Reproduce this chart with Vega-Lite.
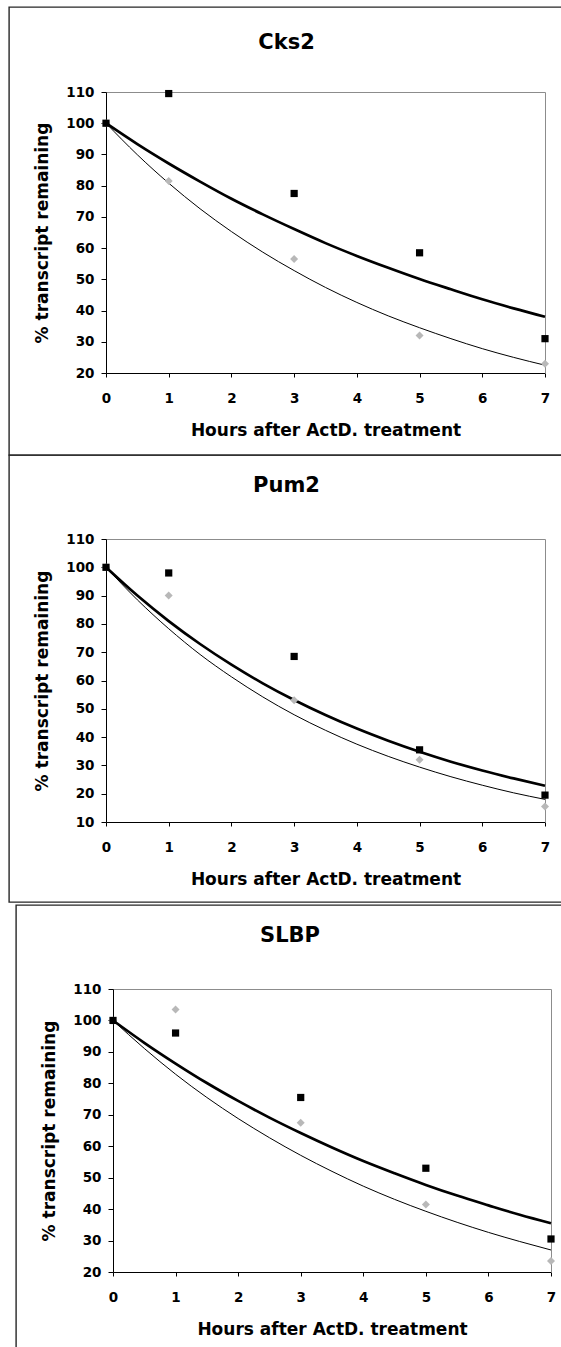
{
 "$schema": "https://vega.github.io/schema/vega-lite/v6.json",
 "padding": {"left": 8, "top": 6, "right": 0, "bottom": 0},
 "background": "white",
 "config": {
  "font": "DejaVu Sans",
  "view": {"stroke": "#262626", "strokeWidth": 1.4},
  "axis": {"grid": false, "labelFont": "DejaVu Sans", "labelFontSize": 13.5, "labelFontWeight": "bold", "labelColor": "#000", "titleFont": "DejaVu Sans", "titleFontSize": 17, "titleFontWeight": "bold", "titleColor": "#000", "domainColor": "#000", "domainWidth": 1, "tickColor": "#000", "tickWidth": 1, "labelFlush": false, "labelOverlap": false},
  "title": {"font": "DejaVu Sans", "fontSize": 21, "fontWeight": "bold", "color": "#000", "anchor": "middle"}
 },
 "datasets": {
  "pts": [
   {"gene":"Cks2","series":"S2","hours":0,"pct":100},{"gene":"Cks2","series":"S2","hours":1,"pct":81.5},{"gene":"Cks2","series":"S2","hours":3,"pct":56.5},{"gene":"Cks2","series":"S2","hours":5,"pct":32},{"gene":"Cks2","series":"S2","hours":7,"pct":23},
   {"gene":"Cks2","series":"S1","hours":0,"pct":100},{"gene":"Cks2","series":"S1","hours":1,"pct":109.5},{"gene":"Cks2","series":"S1","hours":3,"pct":77.5},{"gene":"Cks2","series":"S1","hours":5,"pct":58.5},{"gene":"Cks2","series":"S1","hours":7,"pct":31},
   {"gene":"Pum2","series":"S2","hours":0,"pct":100},{"gene":"Pum2","series":"S2","hours":1,"pct":90},{"gene":"Pum2","series":"S2","hours":3,"pct":53},{"gene":"Pum2","series":"S2","hours":5,"pct":32},{"gene":"Pum2","series":"S2","hours":7,"pct":15.5},
   {"gene":"Pum2","series":"S1","hours":0,"pct":100},{"gene":"Pum2","series":"S1","hours":1,"pct":98},{"gene":"Pum2","series":"S1","hours":3,"pct":68.5},{"gene":"Pum2","series":"S1","hours":5,"pct":35.5},{"gene":"Pum2","series":"S1","hours":7,"pct":19.5},
   {"gene":"SLBP","series":"S2","hours":0,"pct":100},{"gene":"SLBP","series":"S2","hours":1,"pct":103.5},{"gene":"SLBP","series":"S2","hours":3,"pct":67.5},{"gene":"SLBP","series":"S2","hours":5,"pct":41.5},{"gene":"SLBP","series":"S2","hours":7,"pct":23.5},
   {"gene":"SLBP","series":"S1","hours":0,"pct":100},{"gene":"SLBP","series":"S1","hours":1,"pct":96},{"gene":"SLBP","series":"S1","hours":3,"pct":75.5},{"gene":"SLBP","series":"S1","hours":5,"pct":53},{"gene":"SLBP","series":"S1","hours":7,"pct":30.5}
  ],
  "fit": [
   {"gene":"Cks2","series":"S1","hours":0,"pct":100},{"gene":"Cks2","series":"S1","hours":0.5,"pct":93.3},{"gene":"Cks2","series":"S1","hours":1,"pct":87.1},{"gene":"Cks2","series":"S1","hours":1.5,"pct":81.3},{"gene":"Cks2","series":"S1","hours":2,"pct":75.8},{"gene":"Cks2","series":"S1","hours":2.5,"pct":70.8},{"gene":"Cks2","series":"S1","hours":3,"pct":66.1},{"gene":"Cks2","series":"S1","hours":3.5,"pct":61.6},{"gene":"Cks2","series":"S1","hours":4,"pct":57.5},{"gene":"Cks2","series":"S1","hours":4.5,"pct":53.7},{"gene":"Cks2","series":"S1","hours":5,"pct":50.1},{"gene":"Cks2","series":"S1","hours":5.5,"pct":46.8},{"gene":"Cks2","series":"S1","hours":6,"pct":43.6},{"gene":"Cks2","series":"S1","hours":6.5,"pct":40.7},{"gene":"Cks2","series":"S1","hours":7,"pct":38.0},
   {"gene":"Cks2","series":"S2","hours":0,"pct":100},{"gene":"Cks2","series":"S2","hours":0.5,"pct":89.9},{"gene":"Cks2","series":"S2","hours":1,"pct":80.8},{"gene":"Cks2","series":"S2","hours":1.5,"pct":72.6},{"gene":"Cks2","series":"S2","hours":2,"pct":65.3},{"gene":"Cks2","series":"S2","hours":2.5,"pct":58.7},{"gene":"Cks2","series":"S2","hours":3,"pct":52.8},{"gene":"Cks2","series":"S2","hours":3.5,"pct":47.4},{"gene":"Cks2","series":"S2","hours":4,"pct":42.6},{"gene":"Cks2","series":"S2","hours":4.5,"pct":38.3},{"gene":"Cks2","series":"S2","hours":5,"pct":34.5},{"gene":"Cks2","series":"S2","hours":5.5,"pct":31.0},{"gene":"Cks2","series":"S2","hours":6,"pct":27.8},{"gene":"Cks2","series":"S2","hours":6.5,"pct":25.0},{"gene":"Cks2","series":"S2","hours":7,"pct":22.5},
   {"gene":"Pum2","series":"S1","hours":0,"pct":100},{"gene":"Pum2","series":"S1","hours":0.5,"pct":90.0},{"gene":"Pum2","series":"S1","hours":1,"pct":81.0},{"gene":"Pum2","series":"S1","hours":1.5,"pct":72.9},{"gene":"Pum2","series":"S1","hours":2,"pct":65.6},{"gene":"Pum2","series":"S1","hours":2.5,"pct":59.0},{"gene":"Pum2","series":"S1","hours":3,"pct":53.1},{"gene":"Pum2","series":"S1","hours":3.5,"pct":47.8},{"gene":"Pum2","series":"S1","hours":4,"pct":43.0},{"gene":"Pum2","series":"S1","hours":4.5,"pct":38.7},{"gene":"Pum2","series":"S1","hours":5,"pct":34.8},{"gene":"Pum2","series":"S1","hours":5.5,"pct":31.3},{"gene":"Pum2","series":"S1","hours":6,"pct":28.2},{"gene":"Pum2","series":"S1","hours":6.5,"pct":25.4},{"gene":"Pum2","series":"S1","hours":7,"pct":22.8},
   {"gene":"Pum2","series":"S2","hours":0,"pct":100},{"gene":"Pum2","series":"S2","hours":0.5,"pct":88.5},{"gene":"Pum2","series":"S2","hours":1,"pct":78.3},{"gene":"Pum2","series":"S2","hours":1.5,"pct":69.2},{"gene":"Pum2","series":"S2","hours":2,"pct":61.3},{"gene":"Pum2","series":"S2","hours":2.5,"pct":54.2},{"gene":"Pum2","series":"S2","hours":3,"pct":47.9},{"gene":"Pum2","series":"S2","hours":3.5,"pct":42.4},{"gene":"Pum2","series":"S2","hours":4,"pct":37.5},{"gene":"Pum2","series":"S2","hours":4.5,"pct":33.2},{"gene":"Pum2","series":"S2","hours":5,"pct":29.4},{"gene":"Pum2","series":"S2","hours":5.5,"pct":26.0},{"gene":"Pum2","series":"S2","hours":6,"pct":23.0},{"gene":"Pum2","series":"S2","hours":6.5,"pct":20.3},{"gene":"Pum2","series":"S2","hours":7,"pct":18.0},
   {"gene":"SLBP","series":"S1","hours":0,"pct":100},{"gene":"SLBP","series":"S1","hours":0.5,"pct":92.9},{"gene":"SLBP","series":"S1","hours":1,"pct":86.3},{"gene":"SLBP","series":"S1","hours":1.5,"pct":80.1},{"gene":"SLBP","series":"S1","hours":2,"pct":74.4},{"gene":"SLBP","series":"S1","hours":2.5,"pct":69.1},{"gene":"SLBP","series":"S1","hours":3,"pct":64.2},{"gene":"SLBP","series":"S1","hours":3.5,"pct":59.6},{"gene":"SLBP","series":"S1","hours":4,"pct":55.3},{"gene":"SLBP","series":"S1","hours":4.5,"pct":51.4},{"gene":"SLBP","series":"S1","hours":5,"pct":47.7},{"gene":"SLBP","series":"S1","hours":5.5,"pct":44.3},{"gene":"SLBP","series":"S1","hours":6,"pct":41.2},{"gene":"SLBP","series":"S1","hours":6.5,"pct":38.2},{"gene":"SLBP","series":"S1","hours":7,"pct":35.5},
   {"gene":"SLBP","series":"S2","hours":0,"pct":100},{"gene":"SLBP","series":"S2","hours":0.5,"pct":91.1},{"gene":"SLBP","series":"S2","hours":1,"pct":82.9},{"gene":"SLBP","series":"S2","hours":1.5,"pct":75.5},{"gene":"SLBP","series":"S2","hours":2,"pct":68.8},{"gene":"SLBP","series":"S2","hours":2.5,"pct":62.7},{"gene":"SLBP","series":"S2","hours":3,"pct":57.1},{"gene":"SLBP","series":"S2","hours":3.5,"pct":52.0},{"gene":"SLBP","series":"S2","hours":4,"pct":47.3},{"gene":"SLBP","series":"S2","hours":4.5,"pct":43.1},{"gene":"SLBP","series":"S2","hours":5,"pct":39.3},{"gene":"SLBP","series":"S2","hours":5.5,"pct":35.8},{"gene":"SLBP","series":"S2","hours":6,"pct":32.6},{"gene":"SLBP","series":"S2","hours":6.5,"pct":29.7},{"gene":"SLBP","series":"S2","hours":7,"pct":27.0}
  ]
 },
 "spacing": 0,
 "bounds": "flush",
 "vconcat": [
  {
   "width": 555, "height": 448,
   "title": {"text": "Cks2", "offset": -46},
   "layer": [
    {"data": {"name": "fit"}, "transform": [{"filter": "datum.gene === 'Cks2' && datum.series === 'S1'"}],
     "mark": {"type": "line", "color": "#000", "strokeWidth": 2.7, "interpolate": "monotone"},
     "encoding": {
      "x": {"field": "hours", "type": "quantitative", "scale": {"domain": [0, 7], "range": [97, 536], "nice": false, "zero": false},
            "axis": {"orient": "bottom", "offset": -82, "values": [0,1,2,3,4,5,6,7], "tickSize": 4, "labelPadding": 14, "title": "Hours after ActD. treatment", "titlePadding": 18}},
      "y": {"field": "pct", "type": "quantitative", "scale": {"domain": [20, 110], "range": [366, 85], "nice": false, "zero": false},
            "axis": {"orient": "left", "offset": -97, "values": [20,30,40,50,60,70,80,90,100,110], "tickSize": 5, "labelPadding": 7, "title": "% transcript remaining", "titlePadding": 14}}
     }},
    {"data": {"name": "fit"}, "transform": [{"filter": "datum.gene === 'Cks2' && datum.series === 'S2'"}],
     "mark": {"type": "line", "color": "#000", "strokeWidth": 1, "interpolate": "monotone"},
     "encoding": {
      "x": {"field": "hours", "type": "quantitative", "scale": {"domain": [0, 7], "range": [97, 536], "nice": false, "zero": false}, "axis": null},
      "y": {"field": "pct", "type": "quantitative", "scale": {"domain": [20, 110], "range": [366, 85], "nice": false, "zero": false}, "axis": null}
     }},
    {"data": {"name": "pts"}, "transform": [{"filter": "datum.gene === 'Cks2'"}],
     "mark": {"type": "point", "filled": true, "opacity": 1},
     "encoding": {
      "x": {"field": "hours", "type": "quantitative", "scale": {"domain": [0, 7], "range": [97, 536], "nice": false, "zero": false},
            "axis": {"orient": "top", "offset": -85, "domainColor": "#8c8c8c", "ticks": false, "labels": false, "title": null}},
      "y": {"field": "pct", "type": "quantitative", "scale": {"domain": [20, 110], "range": [366, 85], "nice": false, "zero": false},
            "axis": {"orient": "right", "offset": -19, "domainColor": "#8c8c8c", "ticks": false, "labels": false, "title": null}},
      "shape": {"field": "series", "type": "nominal", "scale": {"domain": ["S1", "S2"], "range": ["square", "diamond"]}, "legend": null},
      "size": {"field": "series", "type": "nominal", "scale": {"domain": ["S1", "S2"], "range": [52, 64]}, "legend": null},
      "color": {"field": "series", "type": "nominal", "scale": {"domain": ["S1", "S2"], "range": ["#000000", "#b8b8b8"]}, "legend": null}
     }}
   ],
   "resolve": {"axis": {"x": "independent", "y": "independent"}}
  },
  {
   "spacing": 3,
   "bounds": "flush",
   "vconcat": [
    {
     "width": 555, "height": 447,
     "title": {"text": "Pum2", "offset": -41},
     "layer": [
      {"data": {"name": "fit"}, "transform": [{"filter": "datum.gene === 'Pum2' && datum.series === 'S1'"}],
       "mark": {"type": "line", "color": "#000", "strokeWidth": 2.7, "interpolate": "monotone"},
       "encoding": {
        "x": {"field": "hours", "type": "quantitative", "scale": {"domain": [0, 7], "range": [97, 536], "nice": false, "zero": false},
              "axis": {"orient": "bottom", "offset": -80, "values": [0,1,2,3,4,5,6,7], "tickSize": 4, "labelPadding": 14, "title": "Hours after ActD. treatment", "titlePadding": 18}},
        "y": {"field": "pct", "type": "quantitative", "scale": {"domain": [10, 110], "range": [367, 84], "nice": false, "zero": false},
              "axis": {"orient": "left", "offset": -97, "values": [10,20,30,40,50,60,70,80,90,100,110], "tickSize": 5, "labelPadding": 7, "title": "% transcript remaining", "titlePadding": 14}}
       }},
      {"data": {"name": "fit"}, "transform": [{"filter": "datum.gene === 'Pum2' && datum.series === 'S2'"}],
       "mark": {"type": "line", "color": "#000", "strokeWidth": 1, "interpolate": "monotone"},
       "encoding": {
        "x": {"field": "hours", "type": "quantitative", "scale": {"domain": [0, 7], "range": [97, 536], "nice": false, "zero": false}, "axis": null},
        "y": {"field": "pct", "type": "quantitative", "scale": {"domain": [10, 110], "range": [367, 84], "nice": false, "zero": false}, "axis": null}
       }},
      {"data": {"name": "pts"}, "transform": [{"filter": "datum.gene === 'Pum2'"}],
       "mark": {"type": "point", "filled": true, "opacity": 1},
       "encoding": {
        "x": {"field": "hours", "type": "quantitative", "scale": {"domain": [0, 7], "range": [97, 536], "nice": false, "zero": false},
              "axis": {"orient": "top", "offset": -84, "domainColor": "#8c8c8c", "ticks": false, "labels": false, "title": null}},
        "y": {"field": "pct", "type": "quantitative", "scale": {"domain": [10, 110], "range": [367, 84], "nice": false, "zero": false},
              "axis": {"orient": "right", "offset": -19, "domainColor": "#8c8c8c", "ticks": false, "labels": false, "title": null}},
        "shape": {"field": "series", "type": "nominal", "scale": {"domain": ["S1", "S2"], "range": ["square", "diamond"]}, "legend": null},
        "size": {"field": "series", "type": "nominal", "scale": {"domain": ["S1", "S2"], "range": [52, 64]}, "legend": null},
        "color": {"field": "series", "type": "nominal", "scale": {"domain": ["S1", "S2"], "range": ["#000000", "#b8b8b8"]}, "legend": null}
       }}
     ],
     "resolve": {"axis": {"x": "independent", "y": "independent"}}
    },
    {
     "spacing": 6,
     "bounds": "flush",
     "hconcat": [
      {"width": 1, "height": 1, "view": {"stroke": null}, "data": {"values": [{"gene": "spacer"}]}, "mark": {"type": "rect", "opacity": 0}},
      {
       "width": 548, "height": 445,
       "title": {"text": "SLBP", "offset": -41},
       "layer": [
        {"data": {"name": "fit"}, "transform": [{"filter": "datum.gene === 'SLBP' && datum.series === 'S1'"}],
         "mark": {"type": "line", "color": "#000", "strokeWidth": 2.7, "interpolate": "monotone"},
         "encoding": {
          "x": {"field": "hours", "type": "quantitative", "scale": {"domain": [0, 7], "range": [97, 535], "nice": false, "zero": false},
                "axis": {"orient": "bottom", "offset": -78, "values": [0,1,2,3,4,5,6,7], "tickSize": 4, "labelPadding": 14, "title": "Hours after ActD. treatment", "titlePadding": 18}},
          "y": {"field": "pct", "type": "quantitative", "scale": {"domain": [20, 110], "range": [367, 84], "nice": false, "zero": false},
                "axis": {"orient": "left", "offset": -97, "values": [20,30,40,50,60,70,80,90,100,110], "tickSize": 5, "labelPadding": 7, "title": "% transcript remaining", "titlePadding": 14}}
         }},
        {"data": {"name": "fit"}, "transform": [{"filter": "datum.gene === 'SLBP' && datum.series === 'S2'"}],
         "mark": {"type": "line", "color": "#000", "strokeWidth": 1, "interpolate": "monotone"},
         "encoding": {
          "x": {"field": "hours", "type": "quantitative", "scale": {"domain": [0, 7], "range": [97, 535], "nice": false, "zero": false}, "axis": null},
          "y": {"field": "pct", "type": "quantitative", "scale": {"domain": [20, 110], "range": [367, 84], "nice": false, "zero": false}, "axis": null}
         }},
        {"data": {"name": "pts"}, "transform": [{"filter": "datum.gene === 'SLBP'"}],
         "mark": {"type": "point", "filled": true, "opacity": 1},
         "encoding": {
          "x": {"field": "hours", "type": "quantitative", "scale": {"domain": [0, 7], "range": [97, 535], "nice": false, "zero": false},
                "axis": {"orient": "top", "offset": -84, "domainColor": "#8c8c8c", "ticks": false, "labels": false, "title": null}},
          "y": {"field": "pct", "type": "quantitative", "scale": {"domain": [20, 110], "range": [367, 84], "nice": false, "zero": false},
                "axis": {"orient": "right", "offset": -13, "domainColor": "#8c8c8c", "ticks": false, "labels": false, "title": null}},
          "shape": {"field": "series", "type": "nominal", "scale": {"domain": ["S1", "S2"], "range": ["square", "diamond"]}, "legend": null},
          "size": {"field": "series", "type": "nominal", "scale": {"domain": ["S1", "S2"], "range": [52, 64]}, "legend": null},
          "color": {"field": "series", "type": "nominal", "scale": {"domain": ["S1", "S2"], "range": ["#000000", "#b8b8b8"]}, "legend": null}
         }}
       ],
       "resolve": {"axis": {"x": "independent", "y": "independent"}}
      }
     ]
    }
   ]
  }
 ]
}
